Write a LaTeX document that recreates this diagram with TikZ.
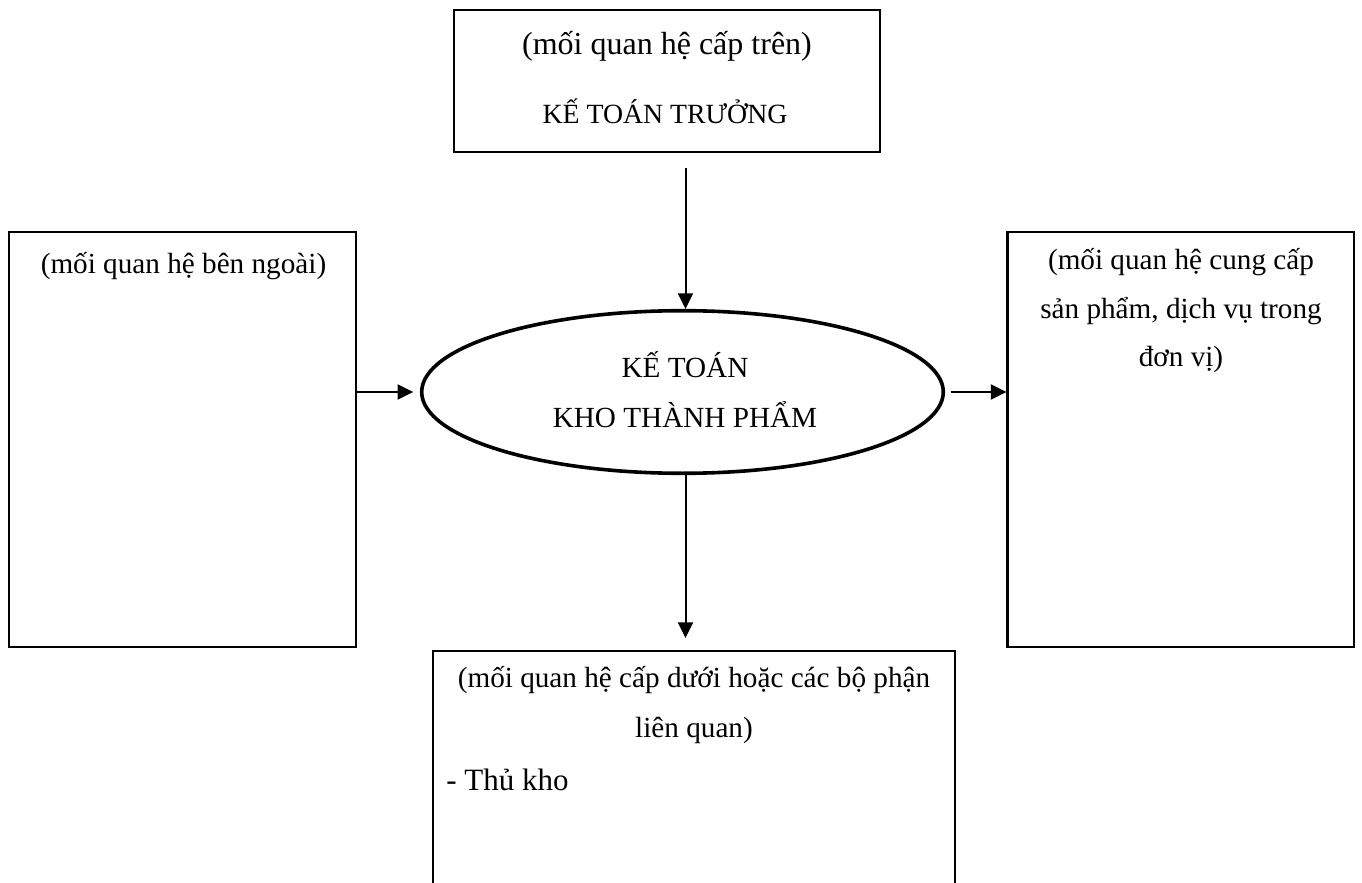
\documentclass[tikz,border=0pt]{standalone}
\usepackage{fontspec}
\setmainfont{Liberation Serif}
\usetikzlibrary{arrows.meta,shapes.geometric}
\begin{document}
\begin{tikzpicture}[x=0.5pt,y=-0.5pt,
  box/.style={draw, rectangle, line width=1.1pt, inner sep=0pt},
  oval/.style={draw, ellipse, line width=1.8pt, inner sep=0pt},
  lbl/.style={inner sep=0pt, anchor=base, font=\fontsize{14.6}{17}\selectfont},
  arr/.style={line width=1pt, -{Triangle[length=7.8pt,width=7.5pt]}}]
\useasboundingbox (0,0) rectangle (1362,883);
\clip (0,0) rectangle (1362,883);

% superior
\node[box, minimum width=213pt, minimum height=71pt] (boss) at (667,81) {};
\node[lbl, font=\fontsize{16}{19}\selectfont] (bossrel) at (667,55) {(mối quan hệ cấp trên)};
\node[lbl, font=\fontsize{13.9}{17}\selectfont] (bossname) at (665,124) {KẾ TOÁN TRƯỞNG};

% central role
\node[oval, minimum width=260.8pt, minimum height=81.3pt] (ell) at (682.5,392) {};
\node[lbl] (role1) at (685,377) {KẾ TOÁN};
\node[lbl] (role2) at (685,427) {KHO THÀNH PHẨM};

% external relations
\node[box, minimum width=173.5pt, minimum height=207.5pt] (lbox) at (182.5,439.5) {};
\node[lbl] (ltext) at (183.5,273) {(mối quan hệ bên ngoài)};

% internal supply relations
\node[box, minimum width=173.25pt, minimum height=207.5pt] (rbox) at (1180.75,439.5) {};
\node[lbl] (rtext1) at (1181,270) {(mối quan hệ cung cấp};
\node[lbl] (rtext2) at (1181,318) {sản phẩm, dịch vụ trong};
\node[lbl] (rtext3) at (1181,366) {đơn vị)};

% subordinate relations
\node[box, anchor=north, minimum width=261pt, minimum height=150pt] (bbox) at (694,650) {};
\node[lbl] (btext1) at (694,687) {(mối quan hệ cấp dưới hoặc các bộ phận};
\node[lbl] (btext2) at (694,737) {liên quan)};
\node[lbl, anchor=base west, font=\fontsize{15.5}{18}\selectfont] (btext3) at (446,790) {- Thủ kho};

% connectors
\coordinate (topstart) at (685.5,168);
\coordinate (botend) at (685.5,638);
\draw[arr] (topstart) -- (topstart |- ell.north);
\draw[arr, shorten >=3.3pt] (lbox.east |- ell.west) -- (ell.west);
\draw[arr, shorten <=2.8pt] (ell.east) -- (rbox.west |- ell.east);
\draw[arr] (botend |- ell.south) -- (botend);
\end{tikzpicture}
\end{document}
